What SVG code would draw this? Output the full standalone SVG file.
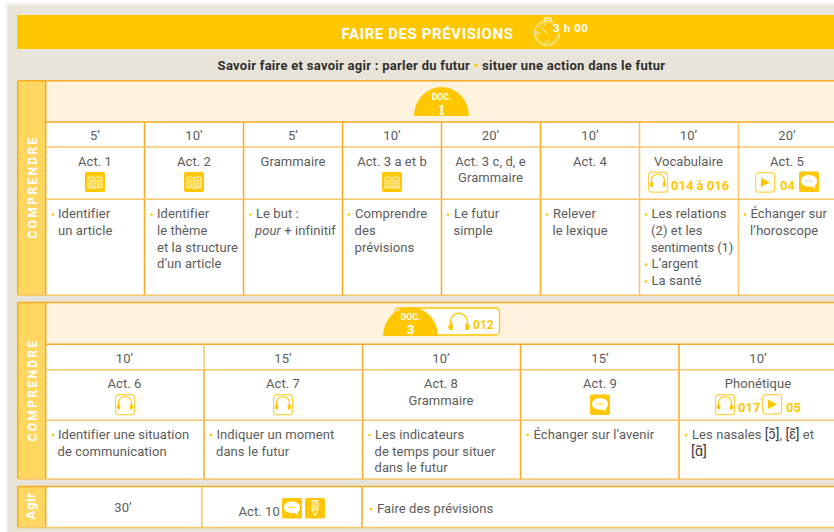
<svg xmlns="http://www.w3.org/2000/svg" width="834" height="532" viewBox="0 0 834 532">
<style>
text{font-family:Roboto,"Liberation Sans",sans-serif}
.t{font-size:13px;fill:#5c5c5c;letter-spacing:.08px}
.c{text-anchor:middle}
.b{fill:#ffc700;font-size:13px;font-weight:700}
.d{fill:#ffc700}
.l{stroke:#f4ab22;stroke-width:1.5;fill:none}
.m{stroke:#f7c66c;stroke-width:1.5;fill:none}
.v{fill:#fff;font-size:12px;font-weight:700;letter-spacing:2.35px;text-anchor:middle}
.o{fill:#fff;stroke:#ffd24d;stroke-width:1.2}
.w{fill:none;stroke:#fff;stroke-width:.9}
.h{fill:none;stroke:#ffc700;stroke-width:1.1}
.s{font-family:"Liberation Serif",serif;font-size:14.500px;font-weight:700;fill:#fff;text-anchor:middle}
.k{fill:#fff;font-size:8.500px;font-weight:700;text-anchor:middle}
</style>
<defs>
<g id="book"><rect width="20" height="20" rx="2" fill="#ffc700"/><path class="w" d="M3 5.500Q7 4 10 6Q13 4 17 5.500V16Q13 14.500 10 16.500Q7 14.500 3 16ZM10 6V16.500M4.500 8H8.500M4.500 10H8.500M4.500 12H8.500M4.500 14H8.500M11.500 8H15.500M11.500 10H15.500M11.500 12H15.500M11.500 14H15.500"/></g>
<g id="phones"><path class="h" d="M3.500 11.500V9A6.500 6.500 0 0 1 16.500 9V11.500"/><rect class="d" x="3" y="10.500" width="2.200" height="5"/><rect class="d" x="14.800" y="10.500" width="2.200" height="5"/><path class="d" d="M3 10.500L1.500 13L3 15.500ZM17 10.500L18.500 13L17 15.500Z"/></g>
<g id="head"><rect class="o" x=".6" y=".6" width="19" height="20" rx="3"/><use href="#phones"/></g>
<g id="play"><rect class="o" x=".6" y=".6" width="19" height="19.500" rx="3"/><path class="d" d="M6 5.500L15 10.500L6 15Z"/></g>
<g id="bubble"><rect width="20" height="20.500" rx="2" fill="#ffc700"/><path fill="#fff" d="M10 3.500C14.500 3.500 18 6 18 9.500C18 12 16.500 13.500 15.500 14L16.500 17L12.500 15C8 15.700 2 14 2 9.500C2 6 5.500 3.500 10 3.500Z"/><path stroke="#ffc700" stroke-width="1.200" stroke-dasharray="1.200 .8" d="M6 9.500H14"/></g>
<g id="pencil"><rect width="20" height="20.500" rx="2" fill="#ffc700"/><path class="w" d="M7 2.500H13V12L10 18L7 12ZM9 2.500V12M11 2.500V12M7 12H13"/></g>
<circle id="dot" r="1.300" fill="#ffc700"/>
</defs>

<rect x="0" y="0" width="834" height="532" fill="#fff"/>
<rect x="6" y="3" width="828" height="529" fill="#f3f1ec"/>
<rect x="8" y="5" width="826" height="527" fill="#e8e4d9"/>

<g id="titre">
<rect x="17" y="15" width="817" height="34" fill="#ffc700"/>
<text x="427.500" y="39" class="c" fill="#fff" font-size="15" font-weight="700" letter-spacing=".6">FAIRE DES PRÉVISIONS</text>
<g class="w">
<circle cx="547" cy="33" r="10.500" stroke-dasharray="1.500 1.500"/><circle cx="547" cy="33" r="12.500" stroke-dasharray="65.400 13.100"/>
<path d="M545 21V18.500H551V21M543.500 18H552M547.500 34L541 27M544 23L545 25M538 33H540M547 42V40"/></g>
<text x="553" y="32" fill="#fff" font-size="11.500" font-weight="700" letter-spacing=".6">3 h 00</text>
</g>
<g id="sous-titre">
<text x="441.500" y="70" class="c" fill="#2f2f2f" font-size="13" font-weight="700" letter-spacing=".28">Savoir faire et savoir agir : parler du futur <tspan fill="#ffc700">•</tspan> situer une action dans le futur</text>
</g>

<g id="bloc-1">
<rect x="17.700" y="80.700" width="820" height="214.600" fill="#fff"/>
<rect x="17.700" y="80.700" width="28" height="214.600" fill="#ffd65f"/>
<rect x="45.700" y="81" width="790" height="41" fill="#fef3df"/>
<path class="l" d="M17.700 80.700H834M17.700 80.700V295.300M45.700 81V295M45.700 122H834M144.500 122V295M243.500 122V295M342.500 122V295M441.500 122V295M540.500 122V295"/>
<path class="m" d="M45.700 147H834M45.700 199.300H834M17.700 295.300H834M639.500 122V295M738.500 122V295"/>
<text transform="translate(37 187) rotate(-90)" class="v">COMPRENDRE</text>
<g id="doc-1"><path class="d" d="M414 116A27.500 29 0 0 1 469 116Z"/><text x="441.500" y="100" class="k">DOC.</text><text x="441.500" y="114.500" class="s">1</text></g>
<g id="c1"><text x="95" y="140" class="t c">5’</text><text x="95" y="166" class="t c">Act. 1</text><use href="#book" x="85" y="172"/><use href="#dot" x="53" y="214.500"/><text x="58" y="218" class="t">Identifier</text><text x="58" y="235" class="t">un article</text></g>
<g id="c2"><text x="194" y="140" class="t c">10’</text><text x="194" y="166" class="t c">Act. 2</text><use href="#book" x="184" y="172"/><use href="#dot" x="151.500" y="214.500"/><text x="157" y="218" class="t">Identifier</text><text x="157" y="235" class="t">le thème</text><text x="157" y="251.500" class="t">et la structure</text><text x="157" y="268" class="t">d’un article</text></g>
<g id="c3"><text x="293" y="140" class="t c">5’</text><text x="293" y="166" class="t c">Grammaire</text><use href="#dot" x="250.500" y="214.500"/><text x="256" y="218" class="t">Le but :</text><text x="255" y="235" class="t"><tspan font-style="italic">pour</tspan> + infinitif</text></g>
<g id="c4"><text x="392" y="140" class="t c">10’</text><text x="392" y="166" class="t c">Act. 3 a et b</text><use href="#book" x="382" y="172"/><use href="#dot" x="349" y="214.500"/><text x="355" y="218" class="t">Comprendre</text><text x="354.500" y="235" class="t">des</text><text x="354.500" y="251.500" class="t">prévisions</text></g>
<g id="c5"><text x="490.500" y="140" class="t c">20’</text><text x="490.500" y="166" class="t c">Act. 3 c, d, e</text><text x="490.500" y="182" class="t c">Grammaire</text><use href="#dot" x="448" y="214.500"/><text x="454" y="218" class="t">Le futur</text><text x="453.500" y="235" class="t">simple</text></g>
<g id="c6"><text x="590" y="140" class="t c">10’</text><text x="590" y="166" class="t c">Act. 4</text><use href="#dot" x="547" y="214.500"/><text x="553" y="218" class="t">Relever</text><text x="552.500" y="235" class="t">le lexique</text></g>
<g id="c7"><text x="688.500" y="140" class="t c">10’</text><text x="688.500" y="166" class="t c">Vocabulaire</text><use href="#head" x="648" y="171.500"/><text x="671" y="190" class="b">014 à 016</text><use href="#dot" x="646" y="214.500"/><text x="651.500" y="218" class="t">Les relations</text><text x="651" y="235" class="t">(2) et les</text><text x="651" y="251.500" class="t" style="letter-spacing:-.15px">sentiments (1)</text><use href="#dot" x="646" y="264.500"/><text x="651.500" y="268" class="t">L’argent</text><use href="#dot" x="646" y="281.500"/><text x="651.500" y="285" class="t">La santé</text></g>
<g id="c8"><text x="787" y="140" class="t c">20’</text><text x="787" y="166" class="t c">Act. 5</text><use href="#play" x="755" y="172"/><text x="780" y="190" class="b">04</text><use href="#bubble" x="799" y="171.500"/><use href="#dot" x="745" y="214.500"/><text x="750.500" y="218" class="t">Échanger sur</text><text x="750" y="235" class="t">l’horoscope</text></g>
</g>

<g id="bloc-2">
<rect x="17.700" y="302.500" width="820" height="176.500" fill="#fff"/>
<rect x="17.700" y="302.500" width="28" height="176.500" fill="#ffd65f"/>
<rect x="45.700" y="303" width="790" height="41" fill="#fef3df"/>
<path class="l" d="M17.700 302.500H834M17.700 302.500V479M45.700 303V479M45.700 344.300H834M362.500 344V479M520.500 344V479M679 344V479M204 370V479"/>
<path class="m" d="M45.700 369.700H834M45.700 420.300H834M17.700 479H834M204 344V370"/>
<text transform="translate(37 390) rotate(-90)" class="v">COMPRENDRE</text>
<g id="doc-3"><rect x="395" y="308" width="104.500" height="27" rx="4" fill="#fff" stroke="#ffc700" stroke-width="1.300"/><path class="d" d="M383 336A27.500 29 0 0 1 438 336Z"/><text x="410.500" y="320" class="k">DOC.</text><text x="410.500" y="334" class="s" style="font-family:Roboto,sans-serif;font-size:13.500px">3</text><g transform="translate(446 310) scale(1.300)"><use href="#phones"/></g><text x="473" y="328.500" class="b" style="font-size:12px">012</text></g>
<g id="d1"><text x="124.500" y="363" class="t c">10’</text><text x="124.500" y="388" class="t c">Act. 6</text><use href="#head" x="115" y="394"/><use href="#dot" x="53" y="435"/><text x="58" y="439" class="t">Identifier une situation</text><text x="57.500" y="456" class="t">de communication</text></g>
<g id="d2"><text x="283" y="363" class="t c">15’</text><text x="283" y="388" class="t c">Act. 7</text><use href="#head" x="273" y="394"/><use href="#dot" x="211" y="435"/><text x="216.500" y="439" class="t">Indiquer un moment</text><text x="216" y="456" class="t">dans le futur</text></g>
<g id="d3"><text x="441" y="363" class="t c">10’</text><text x="441" y="388" class="t c">Act. 8</text><text x="441" y="405" class="t c">Grammaire</text><use href="#dot" x="369.500" y="435"/><text x="375" y="439" class="t">Les indicateurs</text><text x="374.500" y="456" class="t">de temps pour situer</text><text x="374.500" y="472" class="t">dans le futur</text></g>
<g id="d4"><text x="600" y="363" class="t c">15’</text><text x="600" y="388" class="t c">Act. 9</text><use href="#bubble" x="590" y="394.500"/><use href="#dot" x="527.500" y="435"/><text x="533.500" y="439" class="t">Échanger sur l’avenir</text></g>
<g id="d5"><text x="758" y="363" class="t c">10’</text><text x="758" y="388" class="t c">Phonétique</text><use href="#head" x="715" y="394"/><text x="738" y="412" class="b">017</text><use href="#play" x="762" y="394"/><text x="786" y="412" class="b">05</text><use href="#dot" x="686" y="435"/><text x="692" y="439" class="t">Les nasales <tspan fill="#3d3d3d" font-size="14">[ɔ̃]</tspan>, <tspan fill="#3d3d3d" font-size="14">[ɛ̃]</tspan> et</text><text x="691" y="456" class="t"><tspan fill="#3d3d3d" font-size="14.500">[ɑ̃]</tspan></text></g>
</g>

<g id="bloc-3">
<rect x="17.700" y="486.500" width="820" height="41" fill="#fff"/>
<rect x="17.700" y="486.500" width="28" height="41" fill="#ffd65f"/>
<path class="l" d="M17.700 486.500H834M17.700 486.500V527.500M45.700 487V527M362 487V527"/>
<path class="m" d="M17.700 527.500H834M202 487V527"/>
<text transform="translate(35 506) rotate(-90)" fill="#fff" font-size="13" font-weight="700" text-anchor="middle" letter-spacing=".6">Agir</text>
<g id="e1"><text x="123" y="512" class="t c">30’</text></g>
<g id="e2"><text x="238.500" y="516" class="t">Act. 10</text><use href="#bubble" x="282" y="498"/><use href="#pencil" x="305" y="498"/></g>
<g id="e3"><use href="#dot" x="371" y="509"/><text x="377" y="513" class="t">Faire des prévisions</text></g>
</g>
</svg>
